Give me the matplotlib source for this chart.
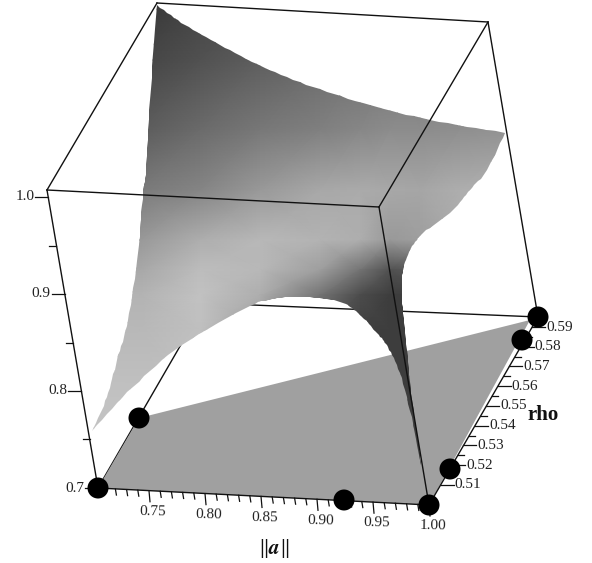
#!/usr/bin/env python3
import numpy as np
import matplotlib
matplotlib.use('Agg')
import matplotlib.pyplot as plt
from matplotlib.patches import Polygon, Ellipse

plt.rcParams['font.family'] = ['Liberation Serif', 'DejaVu Serif']
plt.rcParams['mathtext.fontset'] = 'stix'

W, H = 592, 563

# outline of the surface in pixels, four edges between the sharp corners
top_x = [157, 185, 220, 263, 313, 370, 430, 505]
top_y = [5, 25, 45, 67, 87, 105, 120, 133]
right_x = [505, 487, 470, 453, 423, 410, 403, 402, 403, 407, 412, 418, 421]
right_y = [133, 170, 190, 210, 233, 250, 270, 290, 310, 350, 400, 440, 465]
low_x = [421, 413, 400, 388, 377, 360, 343, 317, 290, 270, 250, 182, 133, 92]
low_y = [465, 423, 373, 347, 333, 315, 303, 298, 297, 300, 306, 345, 387, 431]
left_x = [92, 107, 117, 128, 138, 143, 146, 150, 157]
left_y = [431, 397, 360, 320, 253, 193, 170, 100, 5]

# grey level of the surface on a coarse grid
shade_cols = [80, 140, 200, 260, 320, 360, 390, 420, 460, 520]
shade_rows = [-10, 60, 130, 190, 240, 270, 295, 330, 400, 520]
shade_gray = [
    [.20, .20, .26, .30, .34, .38, .40, .42, .44, .46],
    [.27, .27, .32, .37, .42, .44, .46, .47, .48, .50],
    [.36, .36, .42, .47, .50, .53, .55, .55, .56, .58],
    [.48, .48, .52, .60, .66, .67, .66, .65, .68, .70],
    [.60, .60, .68, .72, .70, .68, .60, .62, .68, .70],
    [.66, .66, .74, .72, .62, .45, .32, .35, .55, .60],
    [.70, .70, .76, .68, .45, .30, .24, .24, .30, .30],
    [.72, .72, .75, .60, .30, .25, .24, .24, .24, .24],
    [.76, .76, .75, .60, .30, .25, .24, .24, .24, .24],
    [.76, .76, .75, .60, .30, .25, .24, .24, .24, .24],
]

# floor polygon and box corners in pixels
floor_x = [98, 139, 530, 429]
floor_y = [488, 418, 320, 505]
box_x = [47, 379, 488, 157, 98, 429, 538, 205]
box_y = [190, 207, 22, 3, 488, 505, 317, 303]

dots_x = [98, 139, 344, 429, 450, 522, 538]
dots_y = [488, 418, 500, 505, 469, 340, 317]

a_ticks = [0.75, 0.80, 0.85, 0.90, 0.95, 1.00]
a_labels = ['0.75', '0.80', '0.85', '0.90', '0.95', '1.00']
rho_ticks = [0.51, 0.52, 0.53, 0.54, 0.55, 0.56, 0.57, 0.58, 0.59]
rho_labels = ['0.51', '0.52', '0.53', '0.54', '0.55', '0.56', '0.57', '0.58', '0.59']
z_ticks = [0.7, 0.8, 0.9, 1.0]
z_labels = ['0.7', '0.8', '0.9', '1.0']

fig = plt.figure(figsize=(W / 100, H / 100), dpi=100)
ax = fig.add_axes([0, 0, 1, 1])
ax.set_xlim(0, W)
ax.set_ylim(H, 0)
ax.axis('off')


def a_pos(a):
    x = 429 - (1.0 - a) * 1120
    return x, 505 - (1.0 - a) * 57


def rho_pos(r):
    y = 485 - (r - 0.51) * 1975
    return 429 + (505 - y) * 109 / 188, y


def z_pos(z):
    y = 488 - (z - 0.7) * 970
    return 98 - (488 - y) * 51 / 298, y


def line(i, j, z=3):
    ax.plot([box_x[i], box_x[j]], [box_y[i], box_y[j]], color='#111111', lw=1.0, zorder=z)


def smooth(xs, ys, n=8):
    # round off the read points so the edge has no visible kinks
    p = np.column_stack([xs, ys]).astype(float)
    p = np.vstack([2 * p[0] - p[1], p, 2 * p[-1] - p[-2]])
    out = []
    for i in range(1, len(p) - 2):
        for t in np.linspace(0, 1, n, endpoint=False):
            out.append(0.5 * (2 * p[i] + (p[i + 1] - p[i - 1]) * t
                              + (2 * p[i - 1] - 5 * p[i] + 4 * p[i + 1] - p[i + 2]) * t ** 2
                              + (3 * p[i] - p[i - 1] - 3 * p[i + 1] + p[i + 2]) * t ** 3))
    return out


# lines under the surface
line(4, 7, 1)
line(7, 6, 1)
line(2, 6, 1)
ax.add_patch(Polygon(list(zip(floor_x, floor_y)), closed=True, fc='#a0a0a0', ec='none', zorder=2))
line(4, 5, 3)
line(5, 6, 3)

# the surface
mesh = ax.pcolormesh(shade_cols, shade_rows, np.array(shade_gray), shading='gouraud',
                     cmap='gray', vmin=0, vmax=1, zorder=4)
outline = smooth(top_x, top_y) + smooth(right_x, right_y) + smooth(low_x, low_y) + smooth(left_x, left_y)
clip = Polygon(outline, closed=True, transform=ax.transData, fc='none', ec='none')
ax.add_patch(clip)
mesh.set_clip_path(clip)

# lines over the surface
line(0, 1, 5)
line(1, 2, 5)
line(2, 3, 5)
line(3, 0, 5)
line(0, 4, 5)
line(1, 5, 5)

# a axis ticks
for k in range(2, 31):
    a = 0.70 + k * 0.01
    x, y = a_pos(a)
    n = 11 if k % 5 == 0 else 6
    ax.plot([x, x + 1], [y, y + n], color='#111111', lw=0.9, zorder=3)
for t, s in zip(a_ticks, a_labels):
    x, y = a_pos(t)
    ax.text(x + 4, y + 21, s, fontsize=11, ha='center', va='center', color='#222222', rotation=-1)

# rho axis ticks
for k in range(1, 19):
    r = 0.505 + k * 0.005
    x, y = rho_pos(r)
    n = 13 if k % 2 == 1 else 6
    ax.plot([x, x + n], [y, y], color='#111111', lw=0.9, zorder=3)
for t, s in zip(rho_ticks, rho_labels):
    x, y = rho_pos(t)
    ax.text(x + 14, y, s, fontsize=11, ha='left', va='center', color='#222222')

# z axis ticks
for k in range(0, 7):
    z = 0.70 + k * 0.05
    x, y = z_pos(z)
    n = 13 if k % 2 == 0 else 7
    ax.plot([x - n, x], [y, y], color='#111111', lw=0.9, zorder=5)
for t, s in zip(z_ticks, z_labels):
    x, y = z_pos(t)
    ax.text(x - 14, y, s, fontsize=11, ha='right', va='center', color='#222222')

for x, y in zip(dots_x, dots_y):
    ax.add_patch(Ellipse((x, y), 21, 21, fc='black', ec='none', zorder=6))

ax.text(543, 415, 'rho', fontsize=15, fontweight='bold', ha='center', va='center', color='#111111')
ax.text(274, 548, r'$\Vert\mathbfit{a}\Vert$', fontsize=15, ha='center', va='center', color='#111111')

fig.savefig('out.png', dpi=100)
